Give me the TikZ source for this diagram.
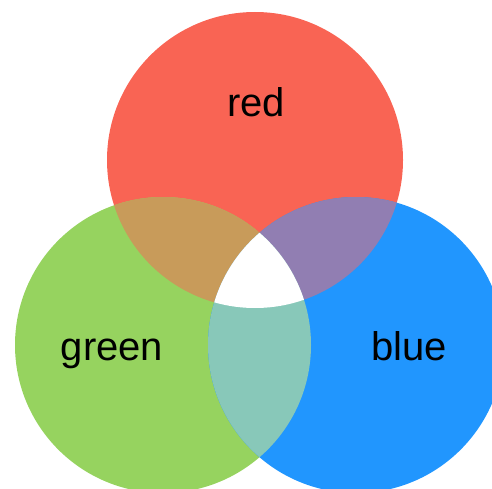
\documentclass[tikz,border=0pt]{standalone}
\usepackage{fontspec}
\setmainfont{Liberation Sans}
\usepackage{tikz}
\definecolor{redset}{HTML}{F96454}
\definecolor{greenset}{HTML}{96D35F}
\definecolor{blueset}{HTML}{2196FE}
\definecolor{redgreen}{HTML}{C89B5A}
\definecolor{redblue}{HTML}{917EB2}
\definecolor{greenblue}{HTML}{88C8B9}
\newcommand\redcirc{(255,160) circle[radius=148]}
\newcommand\greencirc{(163,345) circle[radius=148]}
\newcommand\bluecirc{(356,345) circle[radius=148]}
\tikzset{
  setlabel/.style = {font=\fontsize{40}{48}\selectfont, text=black, inner sep=0pt, anchor=base},
}

\begin{document}
\begin{tikzpicture}[x=1pt, y=-1pt]
  \clip (0,0) rectangle (492,489);
  % single sets
  \fill[redset]   \redcirc;
  \fill[greenset] \greencirc;
  \fill[blueset]  \bluecirc;
  % pairwise overlaps
  \begin{scope}
    \clip \redcirc;
    \fill[redgreen] \greencirc;
  \end{scope}
  \begin{scope}
    \clip \redcirc;
    \fill[redblue] \bluecirc;
  \end{scope}
  \begin{scope}
    \clip \greencirc;
    \fill[greenblue] \bluecirc;
  \end{scope}
  % all three
  \begin{scope}
    \clip \redcirc;
    \clip \greencirc;
    \fill[white] \bluecirc;
  \end{scope}

  \node[setlabel] (redlabel)   at (256,117) {red};
  \node[setlabel] (greenlabel) at (112,360) {green};
  \node[setlabel] (bluelabel)  at (409,360) {blue};
\end{tikzpicture}
\end{document}
